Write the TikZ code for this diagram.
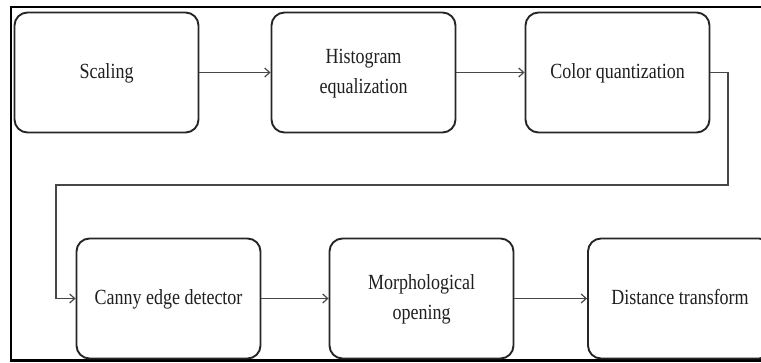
\documentclass[tikz,border=0pt]{standalone}
\usepackage{fontspec}
\setmainfont{Liberation Serif}
\usepackage{graphicx}
\usetikzlibrary{arrows.meta}

% texte un peu etire en hauteur, comme dans la figure d'origine
\newcommand{\talltext}[1]{\scalebox{1}[1.2]{\begin{tabular}{@{}c@{}}#1\end{tabular}}}

\begin{document}
\begin{tikzpicture}[x=1pt, y=1pt]
    \tikzset{
        stepbox/.style={draw=black!85, line width=1.9pt, rounded corners=13pt,
            minimum width=184pt, minimum height=120pt, align=center, inner sep=0pt,
            font=\fontsize{18}{25}\selectfont, text=black!88},
        flowline/.style={draw=black!72, line width=1.5pt,
            -{Straight Barb[length=5pt, width=9pt, line width=1.2pt]}},
        framestyle/.style={line width=2.4pt, black}
    }

    \clip (0,0) rectangle (761,362);
    \fill[white] (0,0) rectangle (761,362);

    % --- cadre (rogne) ---
    \draw[framestyle] (761,355) -- (11,355) -- (11,1.5) -- (761,1.5);

    % --- ligne du haut ---
    \node[stepbox] (scaling) at (106.5,289.5) {\talltext{Scaling}};
    \node[stepbox] (histeq)  at (363.5,289.5) {\talltext{Histogram\\equalization}};
    \node[stepbox] (colorq)  at (617.5,289.5) {\talltext{Color quantization}};

    % --- ligne du bas ---
    \node[stepbox] (canny)  at (168.5,63.5) {\talltext{Canny edge detector}};
    \node[stepbox] (morph)  at (421.5,63.5) {\talltext{Morphological\\opening}};
    \node[stepbox] (dist)   at (680,63.5)   {\talltext{Distance transform}};

    % coudes du retour
    \coordinate (turnR) at (728,177);
    \coordinate (turnL) at (56,177);

    % --- fleches ---
    \draw[flowline] (scaling) -- (histeq);
    \draw[flowline] (histeq) -- (colorq);
    \draw[flowline] (colorq.east) -| (turnR) -- (turnL) |- (canny.west);
    \draw[flowline] (canny) -- (morph);
    \draw[flowline] (morph) -- (dist);

\end{tikzpicture}
\end{document}
